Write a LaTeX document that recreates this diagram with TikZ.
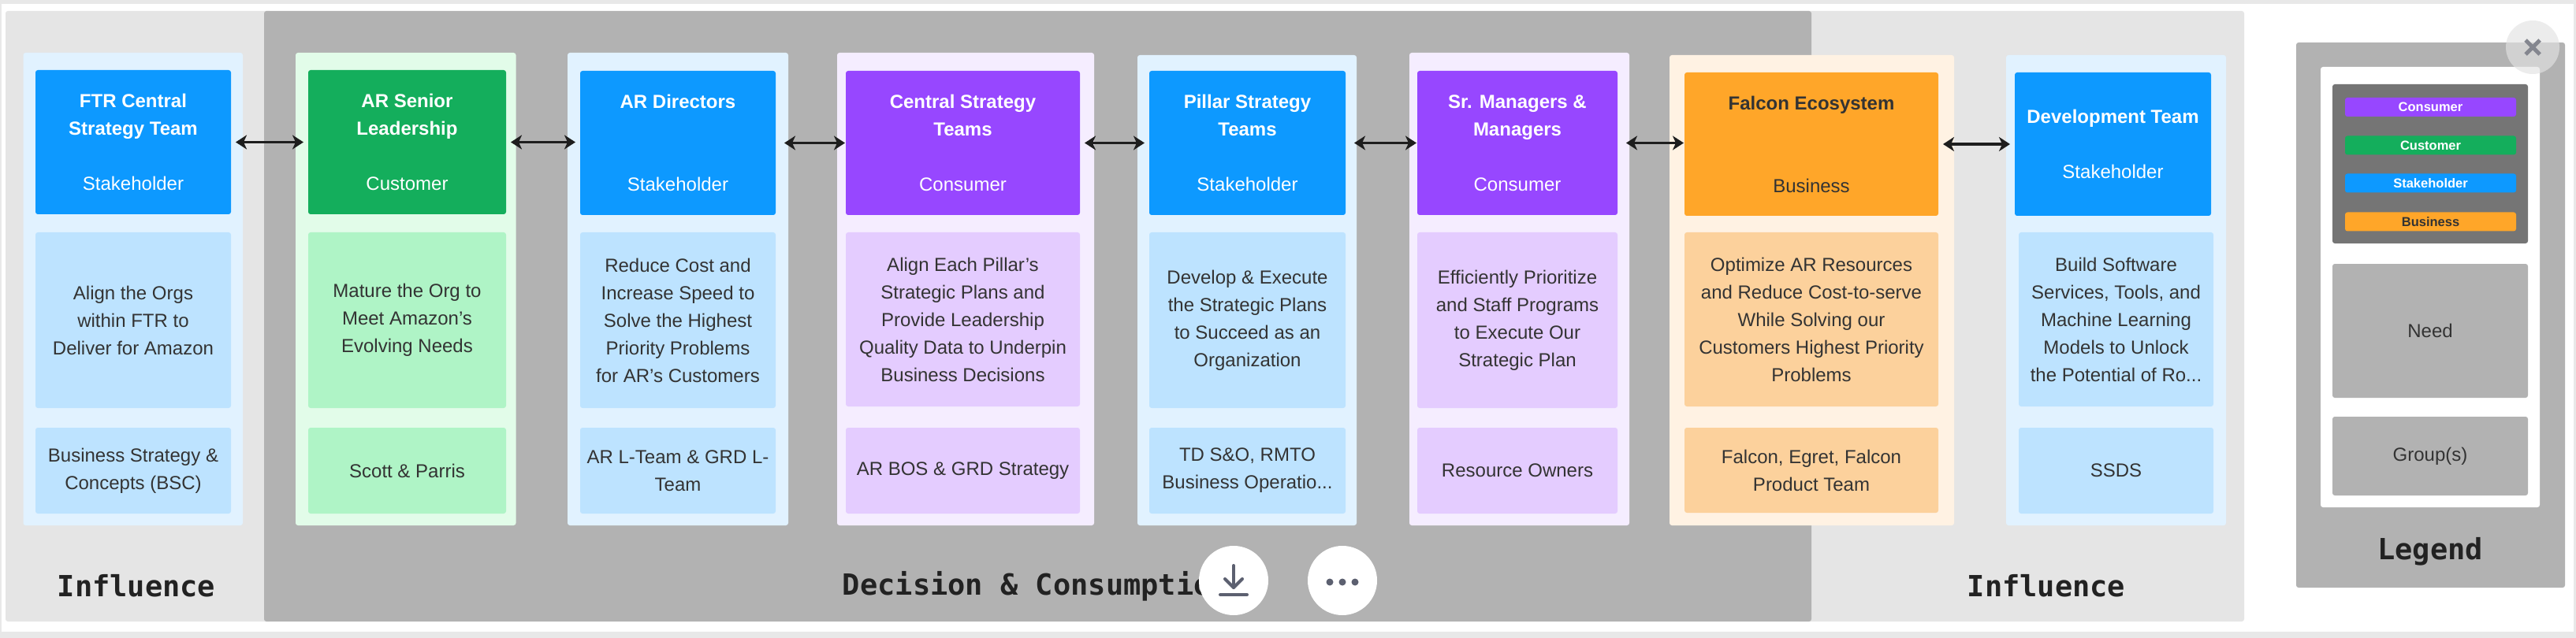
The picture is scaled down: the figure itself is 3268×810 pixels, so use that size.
\documentclass[tikz,border=0pt]{standalone}
\usepackage{fontspec}
\usepackage{xcolor}
\setmainfont{Liberation Sans}
\newfontfamily\bannerfont{DejaVu Sans Mono}
\usetikzlibrary{arrows.meta}
\definecolor{blau}{HTML}{0D99FF}
\definecolor{blauneed}{HTML}{BDE3FF}
\definecolor{blauhell}{HTML}{E1F2FF}
\definecolor{gruen}{HTML}{14AE5C}
\definecolor{gruenneed}{HTML}{AFF4C6}
\definecolor{gruenhell}{HTML}{E2FCE9}
\definecolor{lila}{HTML}{9747FF}
\definecolor{lilaneed}{HTML}{E4CCFF}
\definecolor{lilahell}{HTML}{F5EDFF}
\definecolor{orange}{HTML}{FFA629}
\definecolor{orangeneed}{HTML}{FCD19C}
\definecolor{orangehell}{HTML}{FFF2E3}
\definecolor{panelhell}{HTML}{E5E5E5}
\definecolor{paneldunkel}{HTML}{B2B2B2}
\definecolor{legenddunkel}{HTML}{757575}
\definecolor{schrift}{HTML}{333333}
\definecolor{bannerschrift}{HTML}{222222}
\definecolor{pfeil}{HTML}{1E1E1E}
\definecolor{icon}{HTML}{5C6070}
\tikzset{
    box/.style={rectangle, rounded corners=3pt, inner sep=0pt, outer sep=0pt, align=center,
        font=\fontsize{24}{35}\selectfont, text=schrift},
    head/.style={box, text=white},
    banner/.style={inner sep=0pt, text=bannerschrift, font=\bannerfont\bfseries\fontsize{37}{40}\selectfont},
    chip/.style={box, minimum width=217, minimum height=24, text=white,
        font=\bfseries\fontsize{16.5}{20}\selectfont},
    link/.style={{Stealth[length=14pt,width=18pt,inset=4pt]}-{Stealth[length=14pt,width=18pt,inset=4pt]}, line width=3.5pt,
        pfeil, shorten <=6pt, shorten >=6pt},
    linkb/.style={link, shorten <=11pt, shorten >=1pt},
    roundbtn/.style={circle, fill=white, inner sep=0pt, minimum size=88},
    iconline/.style={icon, line width=4pt, line cap=round, line join=round}
}
\newcommand{\titel}[1]{\textbf{#1}}

\begin{document}
\begin{tikzpicture}[x=1pt, y=-1pt]
    \useasboundingbox (0,0) rectangle (3268,810);

    % Fensterrand
    \fill[panelhell!90] (0,0) rectangle (3268,810);
    \fill[white] (2,5) rectangle (3265,802);

    % Bereiche
    \fill[panelhell, rounded corners=3pt] (7,14) rectangle (345,789);
    \fill[panelhell, rounded corners=3pt] (2280,14) rectangle (2847,789);
    \fill[paneldunkel, rounded corners=3pt] (335,14) rectangle (2298,789);

    % Spalten
    \fill[blauhell, rounded corners=3pt] (29.5,67) rectangle (308,667);
    \fill[gruenhell, rounded corners=3pt] (375,67) rectangle (654.5,667);
    \fill[blauhell, rounded corners=3pt] (720,67) rectangle (1000,667);
    \fill[lilahell, rounded corners=3pt] (1062,67) rectangle (1388,667);
    \fill[blauhell, rounded corners=3pt] (1443,70) rectangle (1721,667);
    \fill[lilahell, rounded corners=3pt] (1788,67) rectangle (2067,667);
    \fill[orangehell, rounded corners=3pt] (2118,70) rectangle (2479,667);
    \fill[blauhell, rounded corners=3pt] (2545,70) rectangle (2824,667);

    % Erste Spalte
    \node[head, fill=blau, minimum width=248, minimum height=183] (hdftr) at (169,180.5)
        {\titel{FTR Central}\\\titel{Strategy Team}\\ \\Stakeholder};
    \node[box, fill=blauneed, minimum width=248, minimum height=223] (needftr) at (169,406.5)
        {Align the Orgs\\within FTR to\\Deliver for Amazon};
    \node[box, fill=blauneed, minimum width=248, minimum height=109] (grpftr) at (169,597.5)
        {Business Strategy \&\\Concepts (BSC)};

    % Zweite Spalte
    \node[head, fill=gruen, minimum width=251, minimum height=183] (hdsenior) at (516.5,180.5)
        {\titel{AR Senior}\\\titel{Leadership}\\ \\Customer};
    \node[box, fill=gruenneed, minimum width=251, minimum height=223] (needsenior) at (516.5,406.5)
        {Mature the Org to\\Meet Amazon’s\\Evolving Needs};
    \node[box, fill=gruenneed, minimum width=251, minimum height=109] (grpsenior) at (516.5,597.5)
        {Scott \& Parris};

    % Dritte Spalte
    \node[head, fill=blau, minimum width=248, minimum height=183] (hddirect) at (860,181.5)
        {\titel{AR Directors}\\ \\ \\Stakeholder};
    \node[box, fill=blauneed, minimum width=248, minimum height=223] (needdirect) at (860,406.5)
        {Reduce Cost and\\Increase Speed to\\Solve the Highest\\Priority Problems\\for AR's Customers};
    \node[box, fill=blauneed, minimum width=248, minimum height=109] (grpdirect) at (860,597.5)
        {AR L-Team \& GRD L-\\Team};

    % Vierte Spalte
    \node[head, fill=lila, minimum width=297, minimum height=183] (hdcentral) at (1221.5,181.5)
        {\titel{Central Strategy}\\\titel{Teams}\\ \\Consumer};
    \node[box, fill=lilaneed, minimum width=297, minimum height=221] (needcentral) at (1221.5,405.5)
        {Align Each Pillar's\\Strategic Plans and\\Provide Leadership\\Quality Data to Underpin\\Business Decisions};
    \node[box, fill=lilaneed, minimum width=297, minimum height=109] (grpcentral) at (1221.5,597.5)
        {AR BOS \& GRD Strategy};

    % Fuenfte Spalte
    \node[head, fill=blau, minimum width=249, minimum height=183] (hdpillar) at (1582.5,181.5)
        {\titel{Pillar Strategy}\\\titel{Teams}\\ \\Stakeholder};
    \node[box, fill=blauneed, minimum width=249, minimum height=223] (needpillar) at (1582.5,406.5)
        {Develop \& Execute\\the Strategic Plans\\to Succeed as an\\Organization};
    \node[box, fill=blauneed, minimum width=249, minimum height=109] (grppillar) at (1582.5,597.5)
        {TD S\&O, RMTO\\Business Operatio...};

    % Sechste Spalte
    \node[head, fill=lila, minimum width=254, minimum height=183] (hdmanager) at (1925,181.5)
        {\titel{Sr. Managers \&}\\\titel{Managers}\\ \\Consumer};
    \node[box, fill=lilaneed, minimum width=254, minimum height=223] (needmanager) at (1925,406.5)
        {Efficiently Prioritize\\and Staff Programs\\to Execute Our\\Strategic Plan};
    \node[box, fill=lilaneed, minimum width=254, minimum height=109] (grpmanager) at (1925,597.5)
        {Resource Owners};

    % Siebte Spalte
    \node[head, fill=orange, text=schrift, minimum width=322, minimum height=182] (hdfalcon) at (2298,183)
        {\titel{Falcon Ecosystem}\\ \\ \\Business};
    \node[box, fill=orangeneed, minimum width=322, minimum height=221] (needfalcon) at (2298,405.5)
        {Optimize AR Resources\\and Reduce Cost-to-serve\\While Solving our\\Customers Highest Priority\\Problems};
    \node[box, fill=orangeneed, minimum width=322, minimum height=108] (grpfalcon) at (2298,597)
        {Falcon, Egret, Falcon\\Product Team};

    % Achte Spalte
    \node[head, fill=blau, minimum width=249, minimum height=182] (hddev) at (2680.5,183)
        {\titel{Development Team}\\ \\Stakeholder};
    \node[box, fill=blauneed, minimum width=247, minimum height=221] (needdev) at (2684.5,405.5)
        {Build Software\\Services, Tools, and\\Machine Learning\\Models to Unlock\\the Potential of Ro...};
    \node[box, fill=blauneed, minimum width=247, minimum height=109] (grpdev) at (2684.5,597.5)
        {SSDS};

    % Pfeile
    \draw[link] (hdftr.east) -- (hdftr.east -| hdsenior.west);
    \draw[link] (hdsenior.east) -- (hdsenior.east -| hddirect.west);
    \draw[linkb] (hddirect.east) -- (hdcentral.west);
    \draw[link] (hdcentral.east) -- (hdpillar.west);
    \draw[linkb] (hdpillar.east) -- (hdmanager.west);
    \draw[linkb] (hdmanager.east) -- (hdmanager.east -| hdfalcon.west);
    \draw[link] (hdfalcon.east) -- (hddev.west);

    % Beschriftungen
    \node[banner] (lblleft) at (173,744) {Influence};
    \node[banner] (lbldecision) at (1314,744) {Decision \& Consumption};
    \node[banner] (lblright) at (2596,744) {Influence};

    % Legende
    \fill[paneldunkel, rounded corners=3pt] (2913,54) rectangle (3254,746);
    \fill[white, rounded corners=3pt] (2944,85) rectangle (3222,644);
    \fill[legenddunkel, rounded corners=3pt] (2959,107) rectangle (3207,309);
    \node[chip, fill=lila] (keyconsumer) at (3083.5,136) {Consumer};
    \node[chip, fill=gruen] (keycustomer) at (3083.5,184.5) {Customer};
    \node[chip, fill=blau] (keystake) at (3083.5,232.5) {Stakeholder};
    \node[chip, fill=orange, text=schrift] (keybusiness) at (3083.5,281.5) {Business};
    \node[box, fill=paneldunkel, minimum width=248, minimum height=170] (keyneed) at (3083,420) {Need};
    \node[box, fill=paneldunkel, minimum width=248, minimum height=100] (keygroup) at (3083,579) {Group(s)};
    \node[banner] (lbllegend) at (3083,700) {Legend};

    % Schaltflaechen
    \node[roundbtn] (btnsave) at (1565,737) {};
    \draw[iconline] (btnsave.center) ++(0,-19) -- ++(0,28);
    \draw[iconline] (btnsave.center) ++(-11,-2) -- ++(11,11) -- ++(11,-11);
    \draw[iconline] (btnsave.center) ++(-17,18) -- ++(34,0);
    \node[roundbtn] (btnmore) at (1703,737) {};
    \fill[icon] (btnmore.center) ++(-16,2) circle (4.5);
    \fill[icon] (btnmore.center) ++(0,2) circle (4.5);
    \fill[icon] (btnmore.center) ++(16,2) circle (4.5);
    \node[circle, fill={rgb,255:red,227;green,227;blue,227}, fill opacity=0.65, inner sep=0pt, minimum size=68] (btnclose) at (3213,60) {};
    \draw[line width=5pt, color={rgb,255:red,132;green,134;blue,143}] (btnclose.center) ++(-9,-9) -- ++(18,18);
    \draw[line width=5pt, color={rgb,255:red,132;green,134;blue,143}] (btnclose.center) ++(9,-9) -- ++(-18,18);
\end{tikzpicture}
\end{document}
